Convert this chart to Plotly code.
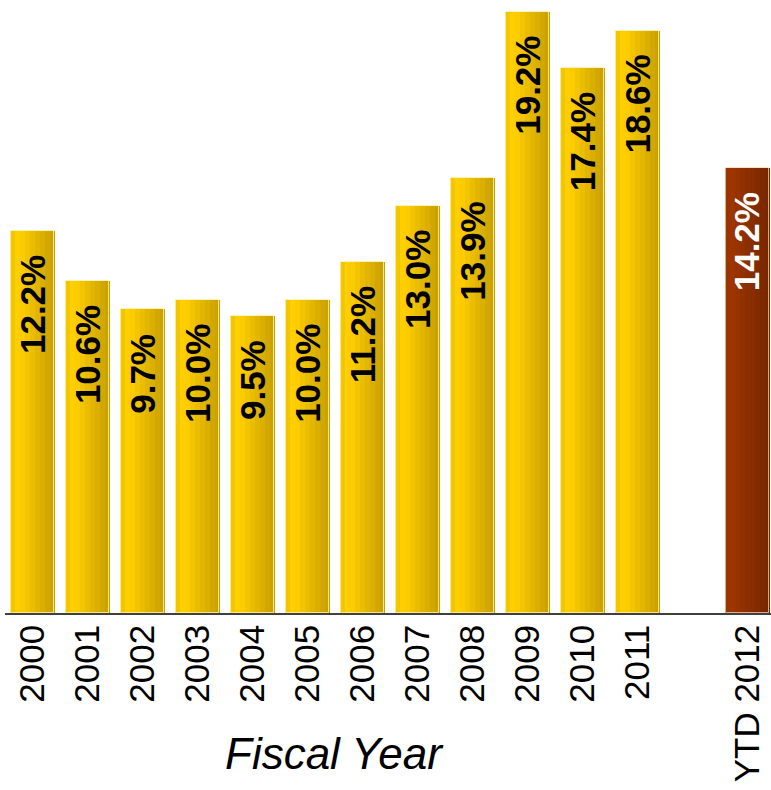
import plotly.graph_objects as go

# Fiscal-year ratios (%), with a gap slot before the year-to-date bar
years = ["2000", "2001", "2002", "2003", "2004", "2005", "2006",
         "2007", "2008", "2009", "2010", "2011"]
year_values = [12.2, 10.6, 9.7, 10.0, 9.5, 10.0, 11.2, 13.0, 13.9, 19.2, 17.4, 18.6]
ytd_label = "YTD 2012"
ytd_value = 14.2

x_pos = list(range(len(years))) + [len(years) + 1]
labels = years + [ytd_label]
values = year_values + [ytd_value]
is_ytd = [False] * len(years) + [True]

# Column shading, left to right, to give a rounded cylinder look
gold_stripes = ["#F2C600", "#FFCF00", "#FCCB00", "#F3C400", "#EABD00",
                "#E2B600", "#DAAF00", "#D2A800", "#CBA200"]
brown_stripes = ["#9A3400", "#9C3500", "#983300", "#923100", "#8C2F00",
                 "#872D00", "#822B00", "#7D2900", "#782700"]

BAR_W = 0.82
n = len(gold_stripes)
sw = BAR_W / n

fig = go.Figure()
for k in range(n):
    fig.add_trace(go.Bar(
        x=x_pos, y=values,
        width=sw * 1.04, offset=-BAR_W / 2 + k * sw,
        marker=dict(color=[brown_stripes[k] if t else gold_stripes[k] for t in is_ytd],
                    line=dict(width=0)),
        hoverinfo="skip", showlegend=False,
    ))

# Soft highlight along the column edges
fig.add_trace(go.Bar(
    x=x_pos, y=values, width=BAR_W - 0.03, offset=-BAR_W / 2 + 0.015,
    marker=dict(color="rgba(0,0,0,0)",
                line=dict(color=["rgba(255,215,170,0.75)" if t else "rgba(255,238,160,0.85)"
                                 for t in is_ytd], width=1)),
    hoverinfo="skip", showlegend=False,
))

# Value labels, rotated and sitting just below the top of each column
for xp, v, t in zip(x_pos, values, is_ytd):
    fig.add_annotation(
        x=xp, y=v, xref="x", yref="y",
        text=f"<b>{v:.1f}%</b>", textangle=-90, showarrow=False,
        yanchor="top", xanchor="center", yshift=-22,
        font=dict(family="Liberation Sans", size=35,
                  color="white" if t else "black"),
    )

fig.add_annotation(
    x=(len(years) - 1) / 2, y=0, xref="x", yref="paper",
    text="<i>Fiscal Year</i>", showarrow=False,
    yanchor="top", yshift=-114,
    font=dict(family="Liberation Sans", size=44, color="black"),
)

fig.update_layout(
    width=771, height=790,
    margin=dict(l=5, r=0, t=0, b=177, autoexpand=False),
    paper_bgcolor="white", plot_bgcolor="white",
    barmode="overlay", bargap=0,
    xaxis=dict(
        range=[-0.5, 13.43], automargin=False,
        tickmode="array", tickvals=x_pos, ticktext=labels,
        tickangle=-90, ticks="", ticklabelstandoff=-4,
        tickfont=dict(family="Liberation Sans", size=35, color="black"),
        showline=True, linecolor="#404040", linewidth=1.5,
        showgrid=False, zeroline=False,
    ),
    yaxis=dict(range=[0, 19.58], visible=False, showgrid=False, zeroline=False,
               automargin=False),
)

fig.write_html("out.html")
